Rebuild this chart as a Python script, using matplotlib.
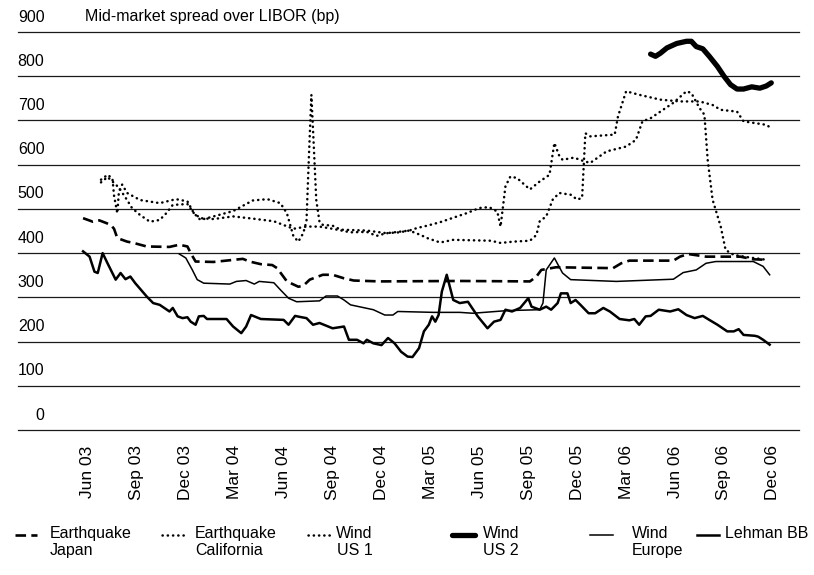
import matplotlib
matplotlib.use("Agg")
import matplotlib.pyplot as plt
from matplotlib.lines import Line2D
from matplotlib import transforms

plt.rcParams['font.family'] = ['Liberation Sans', 'DejaVu Sans']

# x axis: months since June 2003
tick_months = list(range(0, 43, 3))
tick_labels = ['Jun 03', 'Sep 03', 'Dec 03', 'Mar 04', 'Jun 04', 'Sep 04', 'Dec 04',
               'Mar 05', 'Jun 05', 'Sep 05', 'Dec 05', 'Mar 06', 'Jun 06', 'Sep 06', 'Dec 06']
y_levels = [0, 100, 200, 300, 400, 500, 600, 700, 800, 900]

# (month, spread in bp)
eq_japan = [(-0.3, 479), (0.3, 471), (0.7, 474), (1.4, 464), (1.6, 455), (1.8, 434), (2.4, 426),
            (2.8, 423), (3.6, 415), (5.0, 414), (5.6, 419), (6.1, 415), (6.3, 400), (6.6, 381),
            (7.7, 380), (9.5, 387), (9.9, 381), (10.6, 375), (11.3, 373), (11.6, 366), (12.2, 336),
            (12.9, 324), (13.2, 326), (13.6, 340), (14.4, 351), (15.0, 351), (15.7, 343), (16.3, 338),
            (17.9, 336), (22.8, 337), (27.1, 336), (27.5, 347), (27.8, 362), (28.7, 368), (32.2, 366),
            (32.7, 377), (33.2, 383), (35.9, 383), (36.3, 392), (36.8, 398), (37.9, 392), (40.0, 392),
            (40.8, 386), (41.5, 385)]

eq_california = [(0.8, 560), (1.2, 572), (1.5, 562), (1.9, 548), (2.4, 520), (2.7, 502), (3.2, 486),
                 (3.8, 471), (4.4, 475), (4.8, 490), (5.2, 509), (6.1, 511), (6.5, 490), (6.9, 479),
                 (7.7, 477), (8.9, 483), (10.1, 478), (11.4, 472), (12.6, 455), (13.4, 460), (14.2, 460),
                 (15.0, 455), (16.1, 447), (17.1, 448), (17.7, 439), (18.3, 445), (19.1, 447), (19.7, 451),
                 (20.4, 441), (20.8, 434), (21.6, 424), (22.4, 430), (24.7, 428), (25.3, 423), (26.1, 426),
                 (27.1, 428), (27.5, 441), (27.7, 472), (28.1, 483), (28.5, 521), (28.9, 536), (29.6, 532),
                 (30.0, 521), (30.3, 525), (30.5, 671), (30.8, 664), (32.3, 668), (32.5, 709), (33.0, 766),
                 (33.8, 758), (35.1, 747), (36.3, 743), (37.5, 743), (38.3, 735), (38.8, 724), (39.8, 720),
                 (40.2, 698), (41.6, 690), (41.8, 685)]

wind_us1 = [(0.8, 566), (1.2, 577), (1.5, 569), (1.6, 530), (1.8, 490), (1.9, 540), (2.1, 555),
            (2.4, 536), (3.2, 520), (4.4, 513), (5.4, 522), (6.1, 517), (6.5, 490), (6.9, 475),
            (7.7, 483), (8.9, 495), (10.1, 519), (11.0, 522), (11.8, 513), (12.2, 490), (12.6, 438),
            (12.9, 426), (13.2, 445), (13.4, 472), (13.55, 620), (13.7, 758), (13.85, 640), (14.0, 520),
            (14.2, 470), (14.4, 464), (15.0, 462), (15.5, 453), (17.1, 451), (18.3, 445), (19.7, 451),
            (20.2, 457), (20.8, 462), (21.6, 470), (22.4, 480), (23.2, 490), (24.0, 502), (24.6, 504),
            (25.1, 494), (25.3, 460), (25.6, 551), (25.9, 573), (26.3, 570), (27.1, 544), (27.7, 562),
            (28.3, 577), (28.6, 649), (28.9, 620), (29.1, 611), (29.8, 616), (30.4, 608), (30.8, 604),
            (31.8, 630), (33.0, 641), (33.6, 656), (34.0, 698), (34.5, 705), (35.9, 740), (36.7, 766),
            (37.0, 762), (37.5, 728), (37.8, 713), (38.0, 611), (38.3, 521), (38.8, 460), (39.1, 407),
            (39.6, 396), (40.4, 391), (41.6, 385)]

wind_us2 = [(34.5, 850), (34.8, 845), (35.1, 852), (35.5, 864), (36.1, 874), (36.7, 879), (37.0, 879),
            (37.3, 867), (37.7, 862), (38.1, 845), (38.6, 822), (39.0, 800), (39.4, 781), (39.8, 771),
            (40.2, 771), (40.7, 776), (41.2, 773), (41.6, 778), (41.9, 785)]

wind_europe = [(5.6, 398), (6.0, 389), (6.4, 362), (6.7, 340), (7.1, 332), (8.7, 330), (9.1, 336),
               (9.7, 338), (10.2, 330), (10.5, 336), (11.4, 333), (11.8, 317), (12.3, 298), (12.8, 290),
               (14.2, 292), (14.6, 303), (15.3, 303), (15.7, 294), (16.1, 283), (17.5, 272), (18.2, 260),
               (18.7, 260), (19.0, 268), (21.2, 266), (22.8, 266), (23.6, 264), (25.7, 270), (27.7, 272),
               (27.9, 287), (28.1, 362), (28.6, 389), (29.1, 355), (29.6, 340), (32.4, 336), (35.9, 341),
               (36.5, 356), (37.3, 362), (37.9, 377), (38.5, 381), (40.8, 381), (41.4, 370), (41.8, 351)]

lehman_bb = [(-0.3, 404), (0.1, 392), (0.4, 358), (0.6, 355), (0.9, 400), (1.2, 377), (1.7, 340),
             (2.0, 355), (2.3, 341), (2.6, 347), (2.9, 332), (3.6, 302), (4.0, 287), (4.4, 283),
             (5.0, 268), (5.2, 276), (5.5, 257), (5.8, 253), (6.1, 255), (6.3, 245), (6.6, 238),
             (6.8, 257), (7.1, 258), (7.3, 251), (8.5, 251), (8.9, 234), (9.4, 219), (9.7, 234),
             (10.0, 260), (10.6, 251), (12.0, 249), (12.3, 238), (12.7, 258), (13.1, 255), (13.4, 253),
             (13.8, 238), (14.2, 242), (15.0, 230), (15.7, 234), (16.0, 204), (16.5, 204), (16.9, 196),
             (17.1, 204), (17.5, 196), (18.0, 192), (18.4, 208), (18.8, 196), (19.2, 177), (19.6, 166),
             (19.9, 165), (20.3, 185), (20.6, 223), (20.9, 238), (21.1, 257), (21.3, 245), (21.5, 260),
             (21.7, 313), (22.0, 351), (22.4, 294), (22.8, 287), (23.3, 290), (23.9, 257), (24.5, 230),
             (24.9, 245), (25.3, 249), (25.6, 272), (26.0, 268), (26.5, 276), (27.0, 298), (27.2, 279),
             (27.7, 272), (28.1, 279), (28.4, 272), (28.8, 287), (29.0, 309), (29.4, 309), (29.6, 287),
             (29.9, 294), (30.2, 283), (30.7, 264), (31.1, 264), (31.6, 276), (32.0, 268), (32.6, 251),
             (33.2, 248), (33.5, 251), (33.8, 238), (34.2, 257), (34.5, 258), (35.0, 272), (35.7, 268),
             (36.2, 273), (36.7, 260), (37.2, 253), (37.7, 258), (38.1, 249), (38.6, 238), (39.2, 223),
             (39.6, 223), (39.9, 228), (40.2, 215), (40.9, 213), (41.1, 211), (41.4, 204), (41.8, 193)]

dotted = dict(color='black', lw=1.8, ls=(0, (0.1, 2.0)), dash_capstyle='round')
series = [
    ('Earthquake\nJapan', eq_japan, dict(color='black', lw=1.9, ls=(0, (4, 2)))),
    ('Earthquake\nCalifornia', eq_california, dotted),
    ('Wind\nUS 1', wind_us1, dotted),
    ('Wind\nUS 2', wind_us2, dict(color='black', lw=3.8, solid_capstyle='round')),
    ('Wind\nEurope', wind_europe, dict(color='black', lw=1.1)),
    ('Lehman BB', lehman_bb, dict(color='black', lw=1.8)),
]

W, H = 814, 575
fig = plt.figure(figsize=(W / 100, H / 100), dpi=100)
ax = fig.add_axes([17.5 / W, 1 - 430 / H, 781.5 / W, 398 / H])

for label, data, style in series:
    xs = [p[0] for p in data]
    ys = [p[1] for p in data]
    ax.plot(xs, ys, **style)

for lvl in y_levels:
    ax.axhline(lvl, color='#1a1a1a', lw=0.9, clip_on=False, zorder=0)

ax.set_xlim(-4.32, 43.6)
ax.set_ylim(0, 900)
for s in ax.spines.values():
    s.set_visible(False)
ax.set_yticks([])
ax.set_xticks(tick_months)
ax.set_xticklabels(tick_labels, rotation=90, fontsize=12.5)
ax.tick_params(axis='x', length=0, pad=11)

# y labels sit above their gridlines
lab_tr = transforms.offset_copy(ax.get_yaxis_transform(), fig=fig, y=15, units='dots')
for lvl in y_levels:
    ax.text(0.0345, lvl, str(lvl), transform=lab_tr, ha='right', va='center', fontsize=11.5)
ax.text(85 / W, 1 - 16 / H, 'Mid-market spread over LIBOR (bp)', transform=fig.transFigure,
        ha='left', va='center', fontsize=11.5)

# legend drawn by hand along the bottom
handle_x = [(15, 37), (162, 185), (308, 332), (452, 475), (590, 613), (697, 719)]
text_x = [50, 195, 336, 483, 632, 725]
aligns = ['left', 'left', 'right', 'left', 'left', 'left']
for (label, data, style), (x0, x1), tx, al in zip(series, handle_x, text_x, aligns):
    fig.add_artist(Line2D([x0 / W, x1 / W], [1 - 535 / H] * 2, transform=fig.transFigure, **style))
    fig.text(tx / W, 1 - 526 / H, label, ha='left', va='top', multialignment=al, fontsize=11.5)

fig.savefig('out.png', dpi=100)
